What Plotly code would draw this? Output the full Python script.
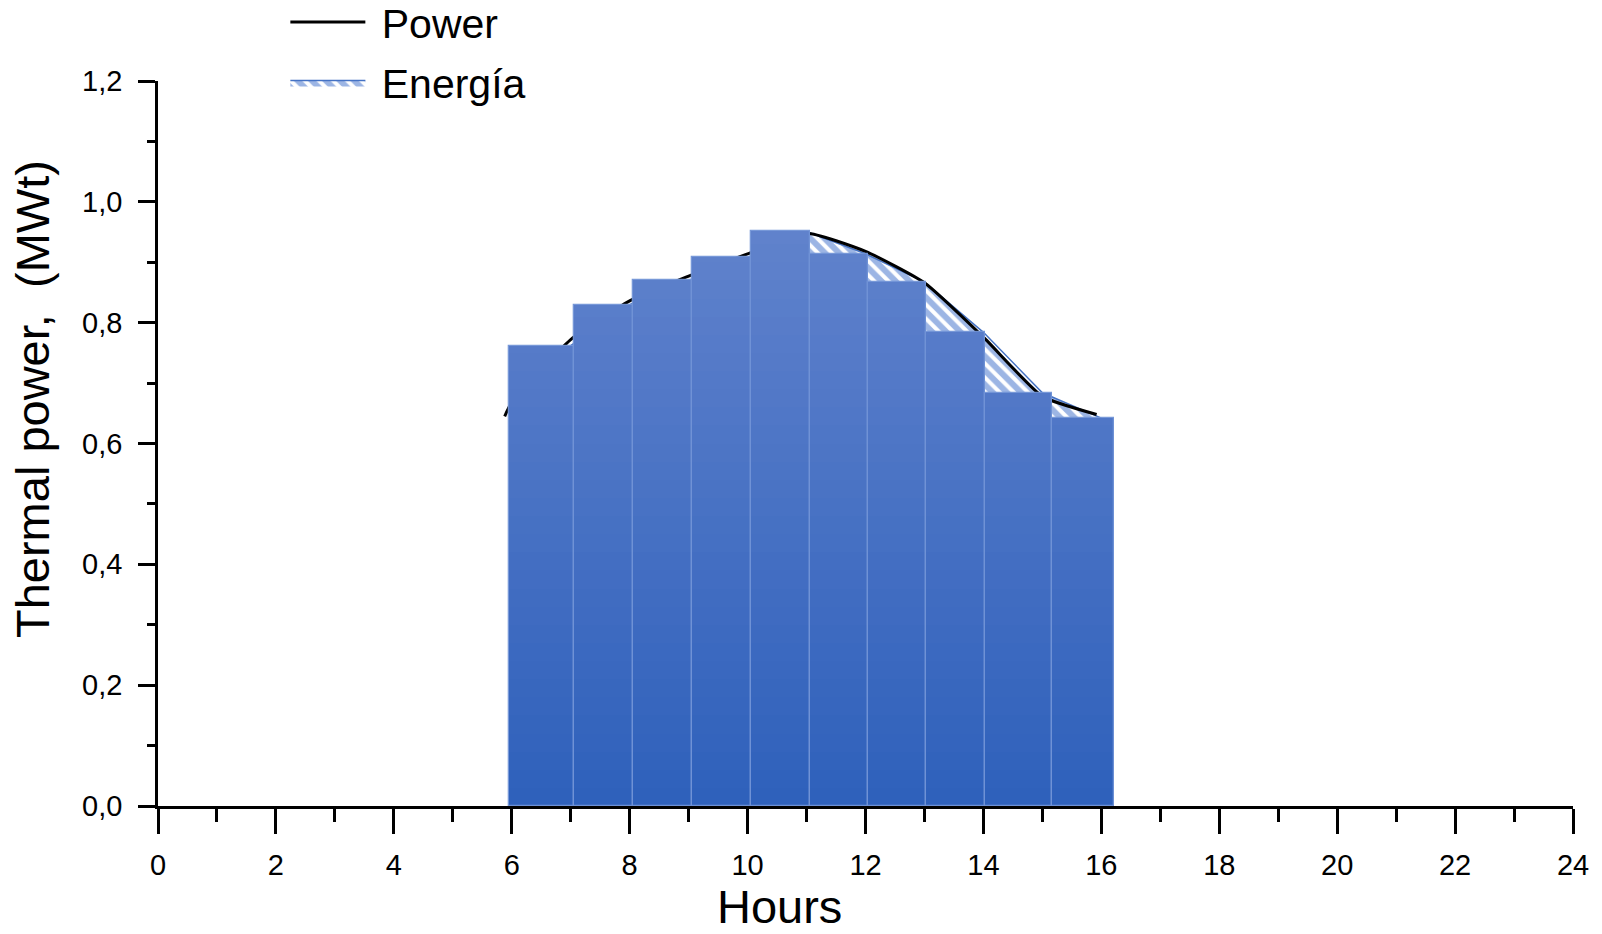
import plotly.graph_objects as go

# ---------------- data ----------------
bar_edges = [5.96, 7.05, 8.06, 9.05, 10.05, 11.06, 12.04, 13.03, 14.02, 15.16, 16.22]
bar_values = [0.762, 0.830, 0.870, 0.908, 0.951, 0.914, 0.867, 0.784, 0.684, 0.642]

energy_hours = [7, 8, 9, 10, 11, 12, 13, 14, 15, 16]
energy_values = bar_values

power_hours = [5.88, 6.0, 7, 8, 9, 10, 11, 12, 13, 14, 15, 15.92]
power_values = [0.645, 0.668, 0.772, 0.836, 0.877, 0.914, 0.948, 0.918, 0.866, 0.776, 0.678, 0.648]

x_ticks = list(range(0, 25, 2))
y_ticks = [0.0, 0.2, 0.4, 0.6, 0.8, 1.0, 1.2]

# ---------------- derived ----------------
bar_centers = [(a + b) / 2 for a, b in zip(bar_edges[:-1], bar_edges[1:])]
bar_widths = [b - a for a, b in zip(bar_edges[:-1], bar_edges[1:])]

FONT = "Arial, 'Liberation Sans', sans-serif"
c_bot = (46, 96, 187)
c_top = (96, 130, 204)
top_ref = 0.95

fig = go.Figure()

# hatched energy area (base axes, drawn beneath bars)
fig.add_trace(go.Scatter(
    x=energy_hours, y=energy_values, mode="lines", name="\u00a0Energía",
    fill="tozeroy", line=dict(color="#4472C4", width=1.5),
    fillcolor="white",
    fillpattern=dict(shape="\\", fgcolor="#3A6BC9", bgcolor="white", size=10, solidity=0.6),
    legendrank=2, legendgroup="b",
))
# power line
fig.add_trace(go.Scatter(
    x=power_hours, y=power_values, mode="lines", name="\u00a0Power",
    line=dict(color="black", width=3, shape="spline", smoothing=0.5),
    legendrank=1, legendgroup="a",
))

# gradient bars drawn as horizontal bands on overlaying axes
n_bands = 40
db = 1.2 / n_bands
for k in range(n_bands):
    b0 = k * db
    ys = [max(0.0, min(v - b0, db)) for v in bar_values]
    if max(ys) <= 0:
        continue
    t = min(1.0, (b0 + db / 2) / top_ref)
    col = tuple(round(c_bot[i] + (c_top[i] - c_bot[i]) * t) for i in range(3))
    fig.add_trace(go.Bar(
        x=bar_centers, y=ys, base=[b0] * len(ys), width=bar_widths,
        marker=dict(color="rgb(%d,%d,%d)" % col, line=dict(width=0)),
        xaxis="x2", yaxis="y2", showlegend=False, hoverinfo="skip",
    ))
# bar outlines
fig.add_trace(go.Bar(
    x=bar_centers, y=bar_values, width=bar_widths,
    marker=dict(color="rgba(0,0,0,0)", line=dict(color="rgba(112,146,214,0.95)", width=1.3)),
    xaxis="x2", yaxis="y2", showlegend=False, hoverinfo="skip",
))

axis_common = dict(showgrid=False, zeroline=False, showline=True, linecolor="black",
                   linewidth=2.5, ticks="outside", tickcolor="black", tickwidth=2.5,
                   tickfont=dict(family=FONT, size=29, color="black"))

fig.update_layout(
    width=1602, height=934,
    margin=dict(l=158, r=29, t=81, b=128, autoexpand=False),
    paper_bgcolor="white", plot_bgcolor="white",
    separators=",.",
    barmode="overlay", bargap=0,
    font=dict(family=FONT, color="black"),
    xaxis=dict(range=[0, 24], tickvals=x_ticks, ticklen=25, ticklabelstandoff=6,
               minor=dict(dtick=1, tick0=0, ticks="outside", ticklen=13, tickwidth=2.5, tickcolor="black"),
               **axis_common),
    yaxis=dict(range=[0, 1.2], tickvals=y_ticks, tickformat=".1f", ticklen=17, ticklabelstandoff=10,
               minor=dict(dtick=0.1, tick0=0, ticks="outside", ticklen=8, tickwidth=2.5, tickcolor="black"),
               **axis_common),
    xaxis2=dict(range=[0, 24], overlaying="x", visible=False),
    yaxis2=dict(range=[0, 1.2], overlaying="y", visible=False),
    legend=dict(x=0.09, y=1.127, xanchor="left", yanchor="top",
                font=dict(family=FONT, size=41, color="black"),
                bgcolor="rgba(0,0,0,0)", itemwidth=75, traceorder="grouped", tracegroupgap=4),
    showlegend=True,
    annotations=[
        dict(text="Thermal power,\u00a0 (MWt)", textangle=-90, xref="paper", yref="paper",
             x=-0.0887, y=0.562, xanchor="center", yanchor="middle", showarrow=False,
             font=dict(family=FONT, size=47, color="black")),
        dict(text="Hours", xref="paper", yref="paper", x=0.439, y=-0.139,
             xanchor="center", yanchor="middle", showarrow=False,
             font=dict(family=FONT, size=47, color="black")),
    ],
)

fig.write_html("out.html", config={"displayModeBar": False},
               post_script="document.body.style.margin='0';document.body.style.overflow='hidden';")
